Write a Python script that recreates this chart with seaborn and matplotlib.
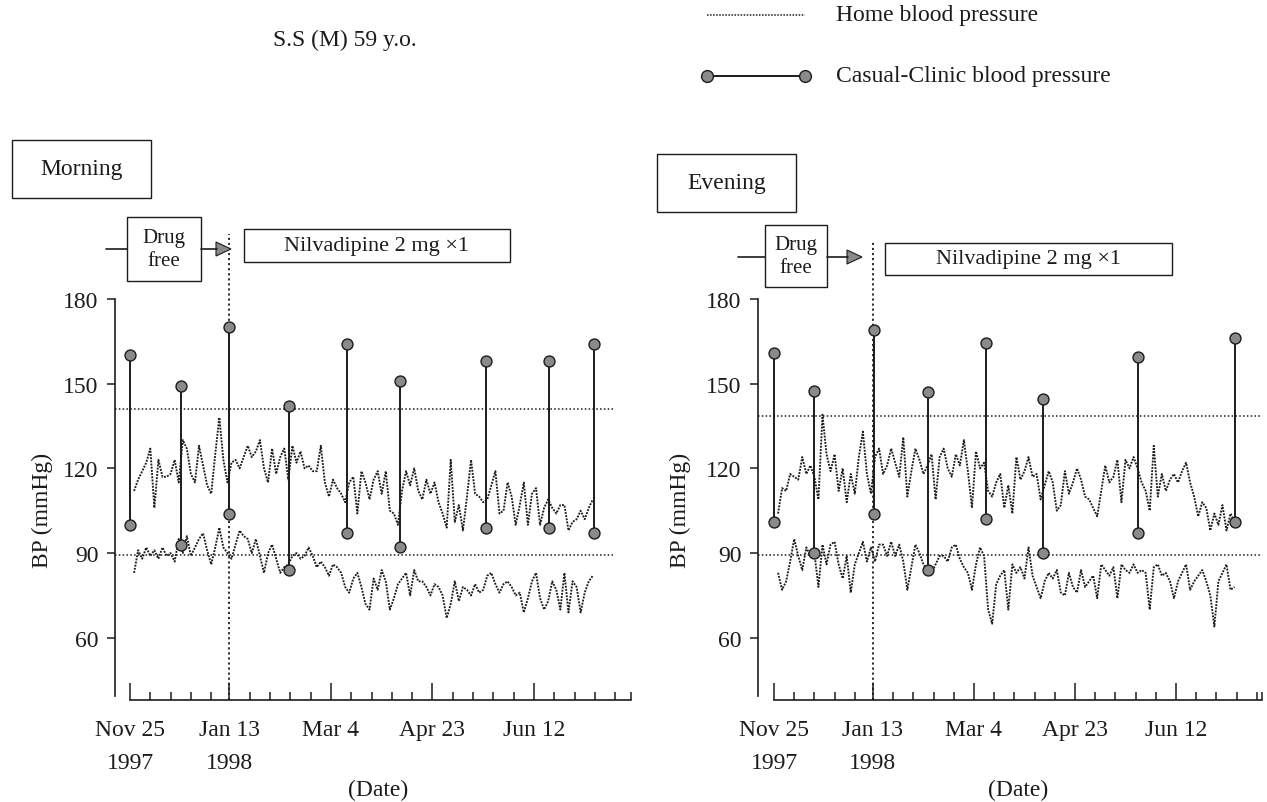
import matplotlib
matplotlib.use("Agg")
import matplotlib.pyplot as plt
from matplotlib.patches import Rectangle, Polygon
from matplotlib.lines import Line2D
import seaborn as sns
import pandas as pd

# ---------------- data ----------------
title_text = "S.S (M) 59 y.o."
legend_labels = ["Home blood pressure", "Casual-Clinic blood pressure"]
panel_names = ["Morning", "Evening"]
drug_free_label = "Drug\nfree"
drug_label = "Nilvadipine 2 mg \u00d71"
y_label = "BP (mmHg)"
x_label = "(Date)"

tick_days = [0, 49, 99, 149, 199]
tick_labels = ["Nov 25\n1997", "Jan 13\n1998", "Mar 4", "Apr 23", "Jun 12"]
minor_days = [10, 20, 30, 40, 59, 69, 79, 89, 109, 119, 129, 139,
              159, 169, 179, 189, 209, 219, 229, 239]
y_ticks = [60, 90, 120, 150, 180]
switch_day = 49  # start of Nilvadipine (Jan 13)

home_days = list(range(2, 229, 2))

morning_sys = [112, 116, 119, 122, 127, 106, 123, 117, 117, 118,
               123, 115, 130, 127, 118, 115, 128, 121, 114, 111,
               125, 138, 123, 115, 122, 123, 120, 124, 128, 124,
               126, 130, 120, 115, 127, 118, 124, 127, 116, 128,
               122, 126, 120, 121, 119, 119, 128, 115, 110, 116,
               113, 111, 108, 115, 117, 104, 119, 115, 109, 116,
               119, 111, 119, 105, 104, 100, 112, 119, 114, 120,
               112, 109, 116, 111, 115, 108, 104, 99, 123, 101,
               107, 98, 110, 123, 111, 110, 108, 109, 114, 119,
               104, 105, 115, 110, 100, 107, 115, 100, 111, 113,
               100, 106, 109, 106, 104, 107, 107, 98, 101, 102,
               105, 102, 106, 109]
morning_dia = [83, 91, 88, 92, 89, 91, 88, 92, 89, 90,
               87, 95, 90, 96, 89, 92, 95, 97, 91, 86,
               92, 99, 92, 90, 88, 93, 98, 96, 95, 90,
               95, 89, 83, 90, 93, 88, 83, 85, 86, 89,
               90, 88, 89, 92, 89, 85, 87, 85, 82, 86,
               85, 83, 78, 76, 81, 83, 78, 72, 70, 81,
               77, 84, 80, 70, 74, 79, 81, 83, 75, 84,
               80, 80, 78, 75, 79, 78, 75, 67, 72, 80,
               73, 78, 77, 75, 79, 76, 77, 82, 83, 79,
               76, 79, 80, 78, 75, 76, 69, 74, 80, 83,
               74, 70, 73, 80, 77, 70, 83, 69, 80, 78,
               69, 76, 80, 82]
evening_sys = [104, 113, 112, 118, 117, 116, 124, 118, 121, 117,
               109, 139, 125, 119, 125, 112, 120, 108, 118, 111,
               124, 133, 118, 111, 124, 127, 118, 121, 127, 122,
               117, 131, 110, 119, 127, 123, 118, 121, 125, 109,
               124, 127, 120, 117, 125, 121, 130, 119, 106, 126,
               120, 122, 112, 110, 115, 118, 106, 114, 104, 124,
               116, 119, 124, 117, 118, 109, 114, 119, 115, 105,
               107, 119, 111, 115, 120, 116, 110, 109, 106, 103,
               112, 121, 115, 117, 123, 108, 123, 120, 124, 120,
               115, 112, 105, 128, 110, 118, 112, 116, 118, 115,
               119, 122, 115, 110, 103, 108, 106, 98, 104, 100,
               107, 98, 104, 101]
evening_dia = [83, 77, 80, 87, 95, 89, 84, 92, 89, 90,
               78, 93, 86, 93, 94, 86, 81, 89, 76, 86,
               90, 94, 87, 92, 87, 93, 93, 89, 94, 89,
               93, 87, 77, 85, 93, 90, 86, 84, 83, 86,
               89, 89, 87, 92, 93, 88, 85, 83, 77, 86,
               92, 89, 70, 65, 79, 82, 84, 70, 86, 83,
               85, 81, 92, 82, 78, 74, 80, 83, 81, 84,
               76, 75, 83, 78, 76, 84, 78, 80, 82, 74,
               86, 84, 82, 85, 74, 86, 84, 83, 86, 83,
               84, 83, 70, 85, 86, 82, 83, 80, 74, 80,
               83, 86, 77, 80, 82, 84, 80, 75, 64, 80,
               83, 86, 77, 78]

morning_clinic_days = [0, 25, 49, 78.5, 107, 133, 175.5, 206.5, 228.5]
morning_clinic_sys = [160, 149, 170, 142, 164, 151, 158, 158, 164]
morning_clinic_dia = [100, 93, 104, 84, 97, 92, 99, 99, 97]

evening_clinic_days = [0, 20, 49.5, 76, 105, 133, 180, 228]
evening_clinic_sys = [161, 147.5, 169, 147, 164.5, 144.5, 159.5, 166]
evening_clinic_dia = [101, 90, 104, 84, 102, 90, 97, 101]

morning_ref = [141, 89.5]
evening_ref = [138.5, 89.5]

# ---------------- style ----------------
sns.set_theme(style="ticks")
plt.rcParams["font.family"] = ["Liberation Serif", "DejaVu Serif"]
INK = "#1c1c1c"
GREY = "#8a8a8a"
FS = 17

W, H = 1267, 803
fig = plt.figure(figsize=(W / 100, H / 100), dpi=100)
fig.patch.set_facecolor("white")


def fx(x):
    return x / W


def fy(y):
    return 1 - y / H


def box(x0, y0, x1, y1, lw=1.0):
    fig.add_artist(Rectangle((fx(x0), fy(y1)), (x1 - x0) / W, (y1 - y0) / H,
                             transform=fig.transFigure, fill=False,
                             edgecolor=INK, linewidth=lw))


def hline(x0, x1, y, **kw):
    fig.add_artist(Line2D([fx(x0), fx(x1)], [fy(y), fy(y)],
                          transform=fig.transFigure, **kw))


def arrow_head(x0, x1, y, half=7):
    fig.add_artist(Polygon([(fx(x0), fy(y - half)), (fx(x1), fy(y)),
                            (fx(x0), fy(y + half))], closed=True,
                           transform=fig.transFigure, facecolor=GREY,
                           edgecolor=INK, linewidth=0.8))


def panel(left_px, right_px, day0_px, ppd, sys_v, dia_v, c_days, c_sys, c_dia,
          refs, ref_end, axis_end, vtop_px):
    top_px, bot_px = 297, 701
    ax = fig.add_axes([fx(left_px), fy(bot_px), (right_px - left_px) / W,
                       (bot_px - top_px) / H])
    ax.set_facecolor("none")
    x0 = -(day0_px - left_px) / ppd
    x1 = (right_px - day0_px) / ppd
    ax.set_xlim(x0, x1)
    ax.set_ylim(38, 181)

    # reference lines
    ax.hlines(refs, xmin=x0, xmax=ref_end, colors=INK, linewidth=1.1,
              linestyles=[(0, (1, 1.5))])

    df = pd.DataFrame({"day": home_days, "sys": sys_v, "dia": dia_v})
    for col in ["sys", "dia"]:
        sns.lineplot(data=df, x="day", y=col, ax=ax, color=INK, linewidth=1.35,
                     linestyle=(0, (1, 0.7)), errorbar=None)

    # switch day line
    frac = (bot_px - vtop_px) / (bot_px - top_px)
    ax.axvline(switch_day, ymin=0, ymax=frac, clip_on=False, color=INK,
               linewidth=1.3, linestyle=(0, (1.2, 1.6)))

    # clinic BP
    ax.vlines(c_days, c_dia, c_sys, colors=INK, linewidth=1.4, zorder=4)
    cdf = pd.DataFrame({"day": c_days + c_days, "bp": c_sys + c_dia})
    sns.scatterplot(data=cdf, x="day", y="bp", ax=ax, s=62, color=GREY,
                    edgecolor=INK, linewidth=1.0, zorder=5, legend=False)

    for s in ["top", "right"]:
        ax.spines[s].set_visible(False)
    ax.spines["left"].set_bounds(39.5, 180)
    ax.spines["bottom"].set_bounds(0, axis_end)
    for s in ["left", "bottom"]:
        ax.spines[s].set_color(INK)
        ax.spines[s].set_linewidth(1.2)

    ax.set_yticks(y_ticks)
    ax.set_yticklabels([str(v) for v in y_ticks], fontsize=FS)
    ax.tick_params(axis="y", which="major", direction="out", length=6,
                   width=1.1, pad=6, colors=INK, left=True)
    ax.set_xticks(tick_days)
    ax.set_xticklabels(tick_labels, fontsize=FS, linespacing=1.7)
    ax.set_xticks(minor_days + [axis_end], minor=True)
    ax.tick_params(axis="x", which="major", direction="in", length=12,
                   width=1.1, pad=14, colors=INK, bottom=True)
    ax.tick_params(axis="x", which="minor", direction="in", length=6,
                   width=1.1, bottom=True, colors=INK)
    ax.set_xlabel("")
    ax.set_ylabel("")
    ax.grid(False)
    return ax


ax1 = panel(115, 632, 130, 2.03, morning_sys, morning_dia,
            morning_clinic_days, morning_clinic_sys, morning_clinic_dia,
            morning_ref, 239, 247, 235)
ax2 = panel(758, 1262, 774, 2.02, evening_sys, evening_dia,
            evening_clinic_days, evening_clinic_sys, evening_clinic_dia,
            evening_ref, 241.5, 241.5, 242)

# axis titles
fig.text(fx(42), fy(510), y_label, rotation=90, ha="center", va="center",
         fontsize=FS, color=INK)
fig.text(fx(680), fy(510), y_label, rotation=90, ha="center", va="center",
         fontsize=FS, color=INK)
fig.text(fx(378), fy(790), x_label, ha="center", va="center", fontsize=FS, color=INK)
fig.text(fx(1018), fy(790), x_label, ha="center", va="center", fontsize=FS, color=INK)

# title
fig.text(fx(345), fy(40), title_text, ha="center", va="center", fontsize=FS, color=INK)

# legend
hline(707, 805, 16, color=INK, linewidth=1.1, linestyle=(0, (1, 1)))
fig.text(fx(836), fy(16), legend_labels[0], ha="left", va="center", fontsize=FS, color=INK)
fig.add_artist(Line2D([fx(707), fx(805)], [fy(77), fy(77)], transform=fig.transFigure,
                      color=INK, linewidth=1.4, marker="o", markersize=8.5,
                      markerfacecolor=GREY, markeredgecolor=INK, markeredgewidth=1.0))
fig.text(fx(836), fy(77), legend_labels[1], ha="left", va="center", fontsize=FS, color=INK)

# panel name boxes
box(12, 141, 151, 199)
fig.text(fx(82), fy(170), panel_names[0], ha="center", va="center", fontsize=FS, color=INK)
box(657, 155, 796, 213)
fig.text(fx(727), fy(184), panel_names[1], ha="center", va="center", fontsize=FS, color=INK)

# treatment boxes and arrows (morning)
hline(106, 127, 250, color=INK, linewidth=1.2)
box(127, 218, 201, 282)
fig.text(fx(164), fy(250), drug_free_label, ha="center", va="center",
         fontsize=15, color=INK, linespacing=1.25)
hline(201, 217, 250, color=INK, linewidth=1.2)
arrow_head(216, 231, 250)
box(244, 230, 510, 263)
fig.text(fx(377), fy(247), drug_label, ha="center", va="center", fontsize=16, color=INK)

# treatment boxes and arrows (evening)
hline(738, 765, 258, color=INK, linewidth=1.2)
box(765, 226, 827, 288)
fig.text(fx(796), fy(257), drug_free_label, ha="center", va="center",
         fontsize=15, color=INK, linespacing=1.25)
hline(827, 848, 258, color=INK, linewidth=1.2)
arrow_head(847, 862, 258)
box(885, 244, 1172, 276)
fig.text(fx(1028), fy(260), drug_label, ha="center", va="center", fontsize=16, color=INK)

fig.savefig("out.png", dpi=100, facecolor="white")
